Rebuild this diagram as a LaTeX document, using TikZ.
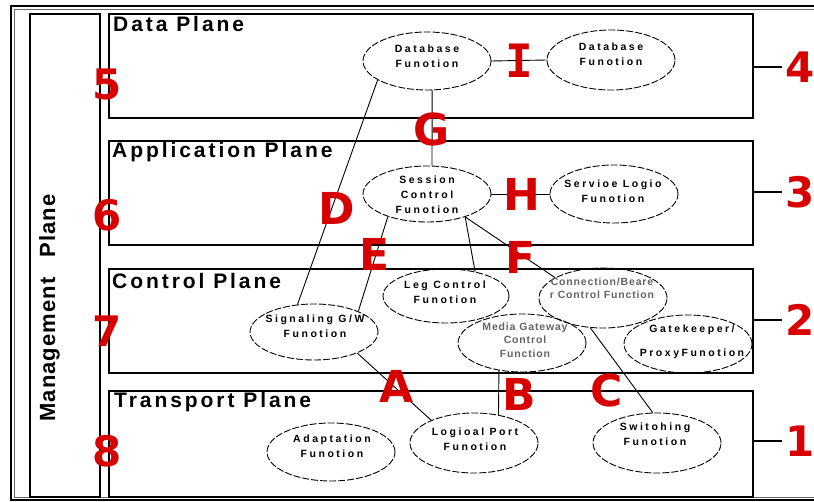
\documentclass[tikz,border=0pt]{standalone}
\usepackage{fontspec}
\setmainfont{Liberation Sans}
\newfontfamily\planefont{Liberation Sans}[LetterSpace=14]
\newfontfamily\mgmtfont{Liberation Sans}[LetterSpace=5]
\newfontfamily\fnfont{Liberation Sans}[LetterSpace=24]
\newfontfamily\fnfontnarrow{Liberation Sans}[LetterSpace=8]
\newfontfamily\markfont{DejaVu Sans}
\newfontfamily\markmono{DejaVu Sans Mono}
\usetikzlibrary{shapes.geometric}
\definecolor{markred}{RGB}{215,0,0}
\definecolor{fngray}{RGB}{100,100,100}
\begin{document}
\begin{tikzpicture}[x=1pt,y=-1pt,
  plane/.style={draw=black, line width=1.3pt, rectangle, inner sep=0pt},
  fn/.style={draw, ellipse, dash pattern=on 7pt off 2pt, line width=0.9pt,
    minimum width=128pt, minimum height=58pt, inner sep=0pt},
  fntext/.style={font=\fnfont\bfseries\fontsize{10.5}{15}\selectfont, align=center, inner sep=0pt},
  fngraytext/.style={font=\fnfontnarrow\bfseries\fontsize{10.5}{13.5}\selectfont, align=center,
    inner sep=0pt, text=fngray},
  planetitle/.style={font=\planefont\bfseries\fontsize{21}{24}\selectfont, anchor=base west, inner sep=0pt},
  redmark/.style={text=markred, font=\markfont\bfseries\fontsize{44}{44}\selectfont, inner sep=0pt},
  reddigit/.style={text=markred, font=\markfont\bfseries\fontsize{42}{42}\selectfont, inner sep=0pt},
  link/.style={line width=0.9pt},
  tick/.style={line width=1.2pt, shorten >=3pt},
  thicktick/.style={line width=2.6pt, shorten >=3pt}]
\useasboundingbox (0,0) rectangle (814,502);

% double outer frame
\draw[line width=2pt] (11,6) rectangle (822,500);
\draw[line width=0.6pt, black!60] (14,9) rectangle (819,497);

% management column and the four planes
\node[plane, minimum width=70pt, minimum height=483pt] (mgmt) at (65,255.5) {};
\node[plane, minimum width=644pt, minimum height=104pt] (data) at (431,66) {};
\node[plane, minimum width=644pt, minimum height=104pt] (app) at (431,193) {};
\node[plane, minimum width=644pt, minimum height=104pt] (ctrl) at (431,321) {};
\node[plane, minimum width=644pt, minimum height=106pt] (trans) at (431,444) {};

\node[rotate=90, anchor=base, inner sep=0pt,
  font=\mgmtfont\bfseries\fontsize{22}{24}\selectfont] (mgmtlabel) at (55,308) {Management\hspace{20pt}Plane};

\node[planetitle] (datatitle) at (113,32) {Data Plane};
\node[planetitle] (apptitle) at (112,158) {Application Plane};
\node[planetitle] (ctrltitle) at (112,289) {Control Plane};
\node[planetitle] (transtitle) at (114,408) {Transport Plane};

% functions
\node[fn] (db1) at (427,61) {};
\node[fn, minimum height=60pt] (db2) at (611,60) {};
\node[fn, minimum height=56pt] (sess) at (427,194) {};
\node[fn] (svc) at (614,194) {};
\node[fn, minimum width=126pt, minimum height=54pt] (leg) at (446,296) {};
\node[fn, minimum height=60pt] (conn) at (603,298) {};
\node[fn] (mgw) at (522,343) {};
\node[fn] (gk) at (688,344) {};
\node[fn, minimum height=56pt] (sig) at (314,332) {};
\node[fn] (adp) at (331,452) {};
\node[fn, minimum height=60pt] (lp) at (474,443) {};
\node[fn, minimum height=60pt] (sw) at (657,443) {};

\node[fntext] (db1t) at (427,56) {Database\\Funotion};
\node[fntext] (db2t) at (611,54) {Database\\Funotion};
\node[fntext] (sesst) at (427,195) {Session\\Control\\Funotion};
\node[fntext] (svct) at (613,191) {Servioe Logio\\Funotion};
\node[fntext] (legt) at (445,292) {Leg Control\\Funotion};
\node[fngraytext] (connt) at (602,288) {Connection/Beare\\r Control Function};
\node[fngraytext] (mgwt) at (525,340) {Media Gateway\\Control\\Function};
\node[fntext, font=\fnfont\bfseries\fontsize{10.5}{24}\selectfont] (gkt) at (692,342) {Gatekeeper/\\ProxyFunotion};
\node[fntext] (sigt) at (315,326) {Signaling G/W\\Funotion};
\node[fntext] (adpt) at (332,446) {Adaptation\\Funotion};
\node[fntext] (lpt) at (475,439) {Logioal Port\\Funotion};
\node[fntext] (swt) at (655,434) {Switohing\\Funotion};

% reference points between functions
\draw[link] (db1.east) -- (db2.west);
\draw[link] (db1.280) -- (sess.80);
\draw[link] (sess.east) -- (svc.west);
\draw[link] (db1.201) -- (sig.121);
\draw[link] (sess.210) -- (sig.25);
\draw[link] (sess.329) -- (leg.40);
\draw[link] (sess.329) -- (conn.157);
\draw[link] (conn.247) -- (sw.98);
\draw[link] (sig.334) -- (lp.152);
\draw[link] (mgw.230) -- (lp.49);

% plane numbers
\node[reddigit] (n5) at (107,84) {5};
\node[reddigit] (n6) at (107,215) {6};
\node[reddigit] (n7) at (107,331) {7};
\node[reddigit] (n8) at (107,451) {8};
\node[reddigit] (n4) at (800,67) {4};
\node[reddigit] (n3) at (800,192) {3};
\node[reddigit] (n2) at (800,320) {2};
\node[reddigit] (n1) at (800,441) {1};

\draw[thicktick] (data.east |- n4.west) -- (n4.west);
\draw[thicktick] (app.east |- n3.west) -- (n3.west);
\draw[tick] (ctrl.east |- n2.west) -- (n2.west);
\draw[tick] (trans.east |- n1.west) -- (n1.west);

% reference point letters
\node[redmark, font=\markmono\bfseries\fontsize{46}{46}\selectfont] (mI) at (519,61) {I};
\node[redmark] (mG) at (432,129) {G};
\node[redmark] (mH) at (522,194) {H};
\node[redmark] (mD) at (337,208) {D};
\node[redmark] (mE) at (375,254) {E};
\node[redmark] (mF) at (521,257) {F};
\node[redmark] (mA) at (397,386) {A};
\node[redmark] (mB) at (519,394) {B};
\node[redmark] (mC) at (607,390) {C};
\end{tikzpicture}
\end{document}
